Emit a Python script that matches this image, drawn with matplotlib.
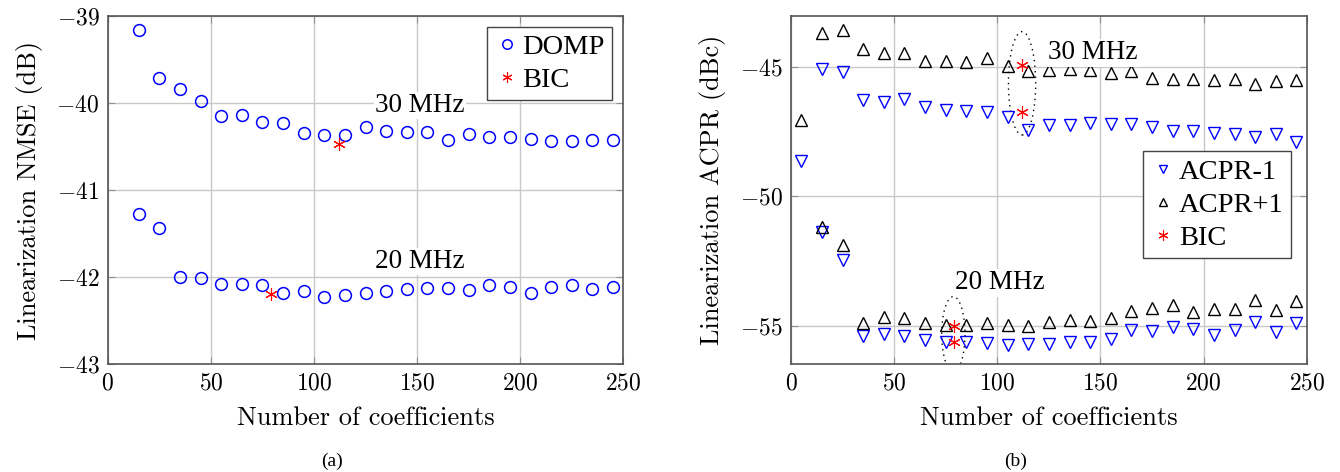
import numpy as np
import matplotlib
matplotlib.use('Agg')
import matplotlib.pyplot as plt
from matplotlib.patches import Ellipse

plt.rcParams['font.family'] = 'cmr10'
plt.rcParams['axes.formatter.use_mathtext'] = True
plt.rcParams['mathtext.fontset'] = 'cm'

# data
n_coef = np.arange(15, 250, 10)
nmse_30 = [-39.17, -39.71, -39.84, -39.98, -40.15, -40.14, -40.22, -40.23, -40.35, -40.37,
           -40.37, -40.28, -40.32, -40.33, -40.33, -40.43, -40.36, -40.39, -40.39, -40.41,
           -40.44, -40.44, -40.43, -40.43]
nmse_20 = [-41.27, -41.44, -42.00, -42.01, -42.08, -42.08, -42.09, -42.18, -42.16, -42.23,
           -42.21, -42.18, -42.16, -42.14, -42.12, -42.12, -42.15, -42.09, -42.11, -42.18,
           -42.11, -42.09, -42.14, -42.11]
bic_nmse_x = [112, 79]
bic_nmse_y = [-40.47, -42.19]

n_acpr = np.arange(5, 250, 10)
acpr_m1_30 = [-48.64, -45.06, -45.17, -46.25, -46.35, -46.21, -46.53, -46.64, -46.70, -46.73,
              -46.91, -47.44, -47.22, -47.22, -47.14, -47.18, -47.20, -47.31, -47.46, -47.47,
              -47.54, -47.58, -47.69, -47.60, -47.88]
acpr_p1_30 = [-47.05, -43.68, -43.54, -44.28, -44.43, -44.43, -44.74, -44.74, -44.78, -44.65,
              -44.93, -45.15, -45.09, -45.06, -45.09, -45.22, -45.15, -45.43, -45.45, -45.45,
              -45.50, -45.45, -45.63, -45.54, -45.50]
n_acpr20 = np.arange(15, 250, 10)
acpr_m1_20 = [-51.38, -52.48, -55.41, -55.31, -55.41, -55.57, -55.65, -55.65, -55.67, -55.75,
              -55.72, -55.70, -55.64, -55.64, -55.51, -55.19, -55.20, -55.07, -55.12, -55.35,
              -55.17, -54.88, -55.25, -54.90]
acpr_p1_20 = [-51.20, -51.87, -54.92, -54.68, -54.71, -54.89, -54.99, -54.99, -54.90, -54.99,
              -55.03, -54.88, -54.80, -54.81, -54.72, -54.45, -54.31, -54.19, -54.46, -54.36,
              -54.36, -54.00, -54.38, -54.06]
bic_acpr_x = [112, 112, 79, 79]
bic_acpr_y = [-44.92, -46.73, -55.03, -55.62]

fig = plt.figure(figsize=(13.4, 4.72), dpi=100)
ax1 = fig.add_axes([0.0804, 0.2282, 0.3848, 0.7386])
ax2 = fig.add_axes([0.5903, 0.2282, 0.3849, 0.7386])

blue = '#0000ff'
star = (6, 2, 0)
for ax in (ax1, ax2):
    ax.grid(True, color='#c8c8c8', linewidth=1)
    ax.set_axisbelow(True)
    ax.tick_params(direction='in', top=True, right=True, labelsize=17, length=5,
                   color='#909090', pad=6)
    for s in ax.spines.values():
        s.set_color('#555555')
        s.set_linewidth(1.2)
    ax.set_xlim(0, 250)
    ax.set_xticks([0, 50, 100, 150, 200, 250])
    ax.set_xlabel('Number of coefficients', fontsize=19, labelpad=8)

leg_font = {'family': 'Liberation Serif', 'size': 20.5}

# (a)
ax1.plot(n_coef, nmse_30, 'o', mfc='none', mec=blue, ms=8.5, mew=1.1, label='DOMP')
ax1.plot(n_coef, nmse_20, 'o', mfc='none', mec=blue, ms=8.5, mew=1.1)
ax1.plot(bic_nmse_x, bic_nmse_y, color='red', ls='none', marker=star, ms=9, mew=0.8,
         label='BIC')
ax1.set_ylim(-43, -39)
ax1.set_yticks([-43, -42, -41, -40, -39])
ax1.set_ylabel('Linearization NMSE (dB)', fontsize=19, labelpad=10)
ax1.text(151.5, -40.03, '30 MHz', fontsize=19.5, family='Liberation Serif',
         ha='center', va='center', bbox=dict(fc='white', ec='none', pad=1))
ax1.text(151.5, -41.82, '20 MHz', fontsize=19.5, family='Liberation Serif',
         ha='center', va='center', bbox=dict(fc='white', ec='none', pad=1))
ax1.legend(loc='upper right', fancybox=False, edgecolor='#444444', framealpha=1,
           prop=leg_font, handletextpad=0.1, handlelength=0.9, borderpad=0.25,
           labelspacing=0.25, borderaxespad=0.4, markerscale=0.8)

# (b)
ax2.plot(n_acpr, acpr_m1_30, 'v', mfc='none', mec=blue, ms=8, mew=1.0, label='ACPR-1')
ax2.plot(n_acpr20, acpr_m1_20, 'v', mfc='none', mec=blue, ms=8, mew=1.0)
ax2.plot(n_acpr, acpr_p1_30, '^', mfc='none', mec='black', ms=8, mew=1.0, label='ACPR+1')
ax2.plot(n_acpr20, acpr_p1_20, '^', mfc='none', mec='black', ms=8, mew=1.0)
ax2.plot(bic_acpr_x, bic_acpr_y, color='red', ls='none', marker=star, ms=9, mew=0.8,
         label='BIC')
ax2.add_patch(Ellipse((112, -45.62), 13.2, 4.0, fill=False, ls=(0, (1, 3)), lw=1, ec='black'))
ax2.add_patch(Ellipse((78.7, -55.33), 11.3, 2.9, fill=False, ls=(0, (1, 3)), lw=1, ec='black'))
ax2.set_ylim(-56.5, -43)
ax2.set_yticks([-55, -50, -45])
ax2.set_ylabel('Linearization ACPR (dBc)', fontsize=19, labelpad=10)
ax2.text(146.4, -44.44, '30 MHz', fontsize=19.5, family='Liberation Serif',
         ha='center', va='center', bbox=dict(fc='white', ec='none', pad=1))
ax2.text(101.3, -53.35, '20 MHz', fontsize=19.5, family='Liberation Serif',
         ha='center', va='center', bbox=dict(fc='white', ec='none', pad=1))
ax2.legend(loc='center right', bbox_to_anchor=(0.969, 0.458), fancybox=False,
           edgecolor='#444444', framealpha=1, prop=leg_font, handletextpad=0.1,
           handlelength=0.9, borderpad=0.25, labelspacing=0.25, borderaxespad=0,
           markerscale=0.8)

fig.text(332 / 1340, 1 - 461 / 472, '(a)', fontsize=14, family='Liberation Serif',
         ha='center', va='center')
fig.text(1016 / 1340, 1 - 461 / 472, '(b)', fontsize=14, family='Liberation Serif',
         ha='center', va='center')

fig.savefig('out.png', dpi=100)
